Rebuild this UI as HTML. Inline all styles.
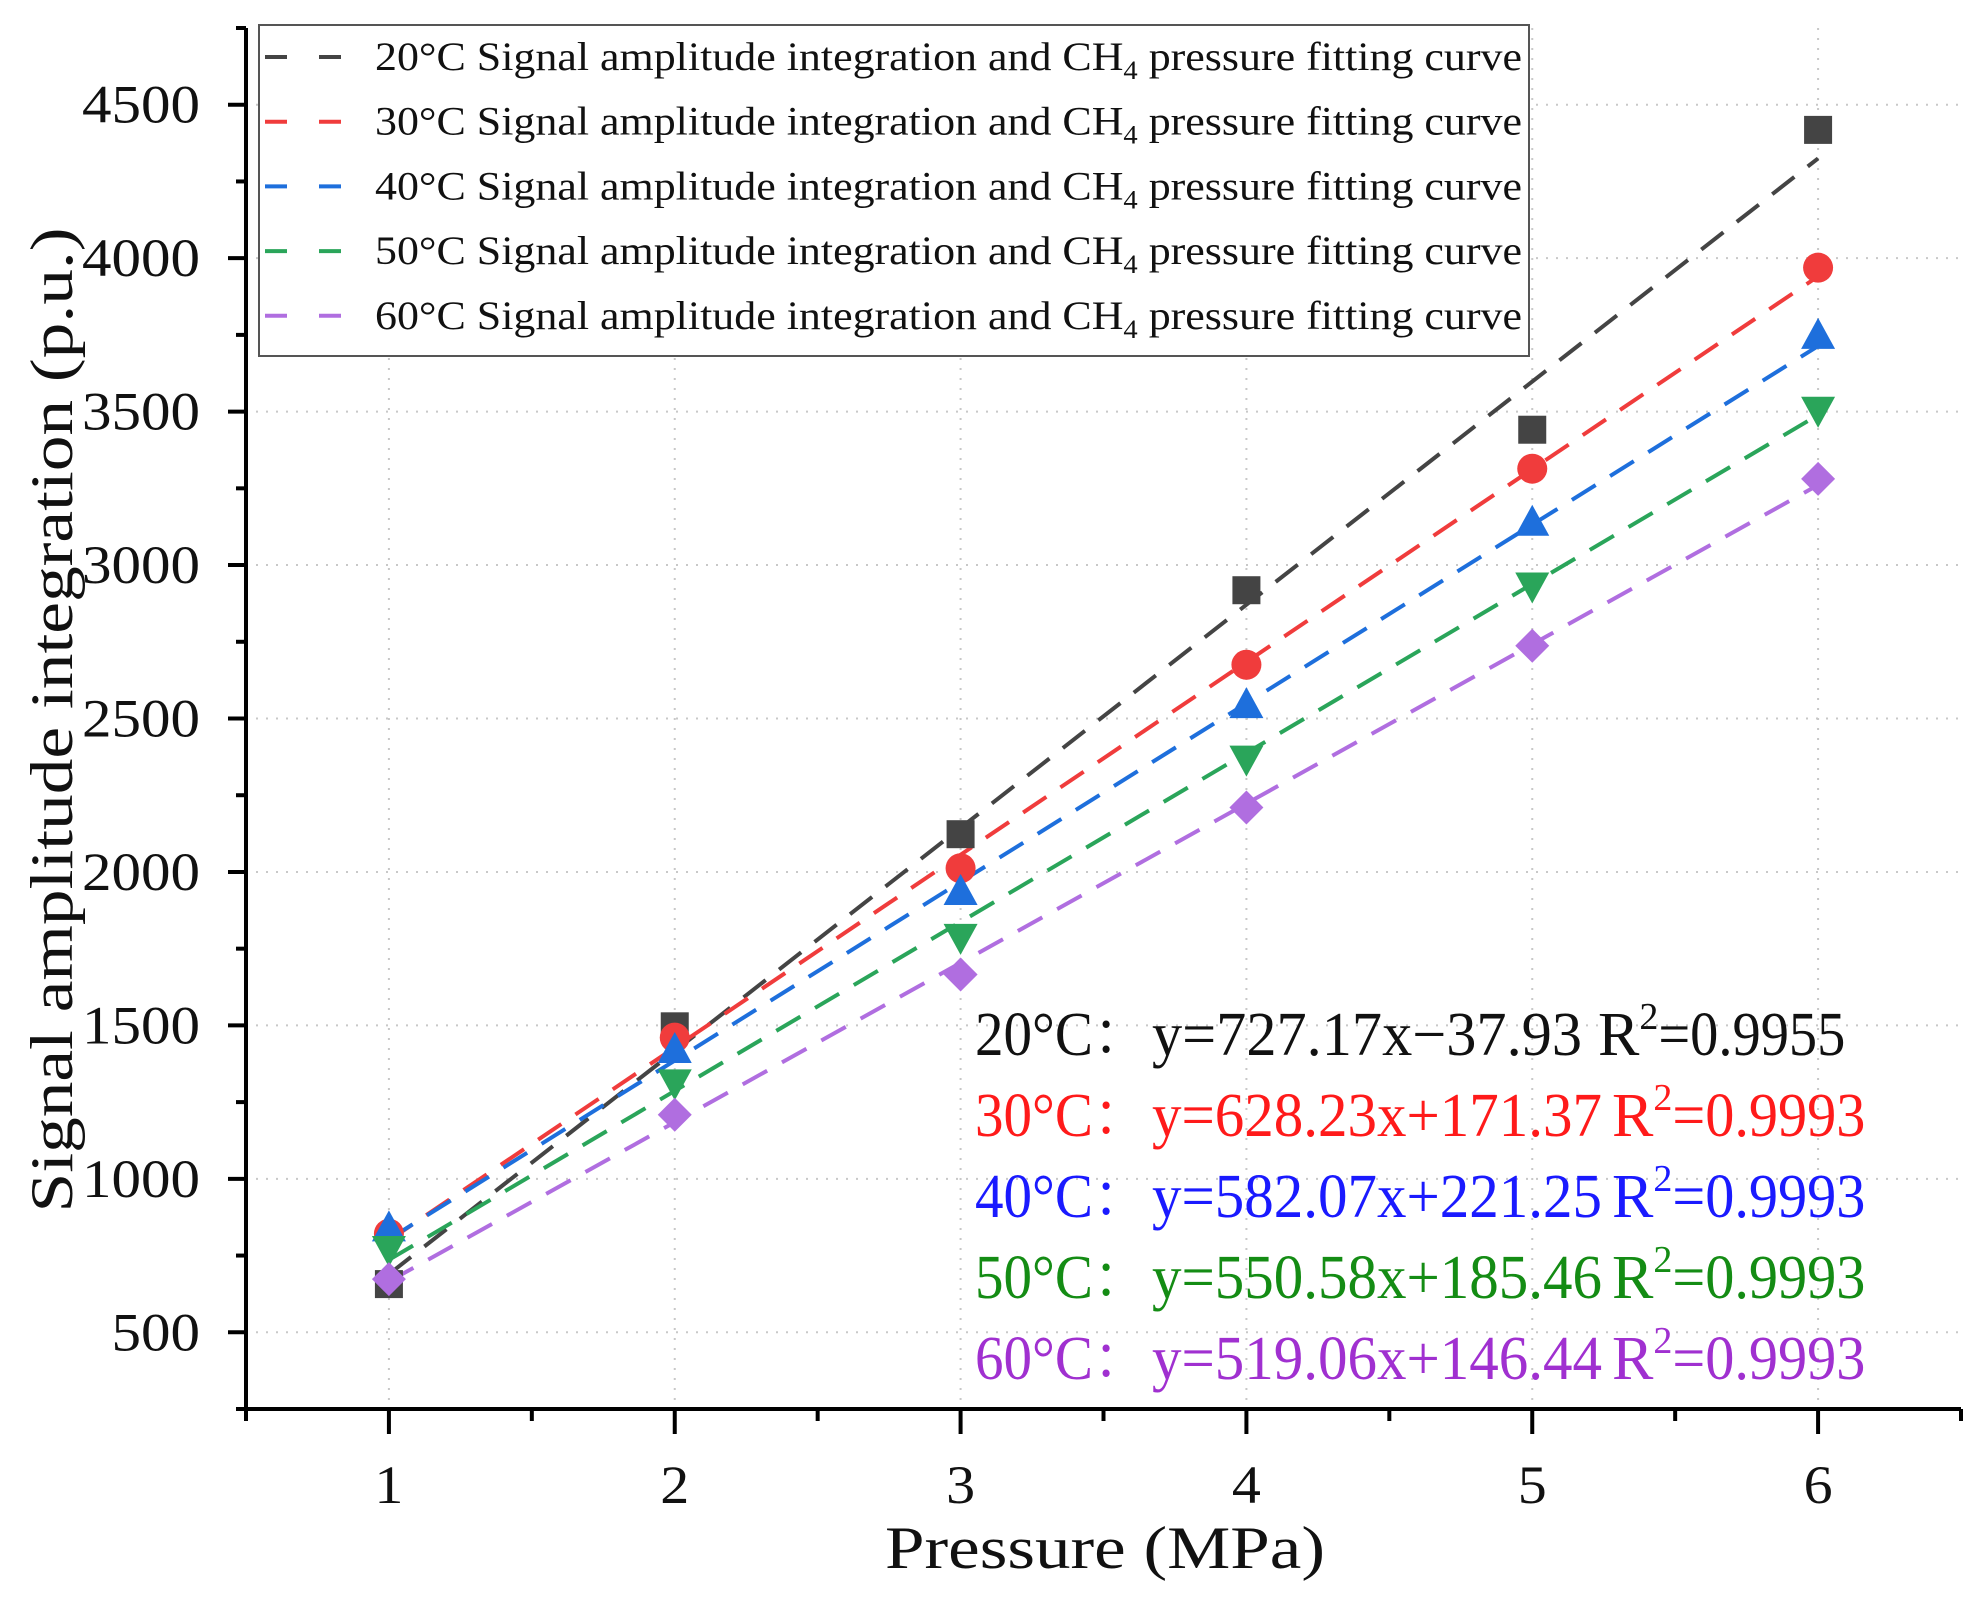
<!DOCTYPE html>
<html><head><meta charset="utf-8"><style>
html,body{margin:0;padding:0;background:#fff;}
svg{display:block;font-family:"Liberation Serif","Noto Serif CJK SC",serif;}
</style></head><body>
<svg id="chart" width="1981" height="1600" viewBox="0 0 1981 1600" xmlns="http://www.w3.org/2000/svg"></svg>
<script>
const categories = [1, 2, 3, 4, 5, 6];
const seriesNames = ["20°C", "30°C", "40°C", "50°C", "60°C"];
const s20 = [657, 1497, 2123, 2918, 3441, 4418];
const s30 = [821, 1460, 2012, 2675, 3314, 3969];
const s40 = [842, 1423, 1938, 2547, 3141, 3750];
const s50 = [768, 1311, 1785, 2366, 2930, 3503];
const s60 = [673, 1209, 1666, 2210, 2737, 3281];
const slopes = [727.17, 628.23, 582.07, 550.58, 519.06];
const intercepts = [-37.93, 171.37, 221.25, 185.46, 146.44];
const eqTexts = ["y=727.17x\u221237.93", "y=628.23x+171.37", "y=582.07x+221.25", "y=550.58x+185.46", "y=519.06x+146.44"];
const r2Texts = ["=0.9955", "=0.9993", "=0.9993", "=0.9993", "=0.9993"];
const yTicks = [500, 1000, 1500, 2000, 2500, 3000, 3500, 4000, 4500];
const xTicks = [1, 2, 3, 4, 5, 6];

const NS = "http://www.w3.org/2000/svg";
const svg = document.getElementById('chart');
const allSeries = [s20, s30, s40, s50, s60];
const colors = ["#444444", "#f03c3c", "#1e6fdc", "#2aa55a", "#b06ee0"];
const eqColors = ["#111111", "#ff1a1a", "#1a1aff", "#148c14", "#a030d0"];
const shapes = ["square", "circle", "up", "down", "diamond"];
const L = 246, R = 1961, T = 28, B = 1409;
const xmin = 0.5, xmax = 6.5, ymin = 250, ymax = 4750;
function sx(v){ return L + (v - xmin) / (xmax - xmin) * (R - L); }
function sy(v){ return B - (v - ymin) / (ymax - ymin) * (B - T); }
function mk(tag, attrs, parent){ const e = document.createElementNS(NS, tag); for (const k in attrs) e.setAttribute(k, attrs[k]); (parent || svg).appendChild(e); return e; }

// grid
const grid = mk('g', {});


yTicks.forEach(v => { mk('line', {x1: L, x2: R, y1: sy(v), y2: sy(v), stroke: '#c8c8c8', 'stroke-width': 2, 'stroke-dasharray': '2 8'}, grid); });
xTicks.forEach(v => { mk('line', {x1: sx(v), x2: sx(v), y1: T, y2: B, stroke: '#c8c8c8', 'stroke-width': 2, 'stroke-dasharray': '2 8'}, grid); });

// axes
const axes = mk('g', {stroke: '#000', 'stroke-width': 4});


mk('line', {x1: L, x2: L, y1: T, y2: B + 2}, axes);
mk('line', {x1: L - 2, x2: R, y1: B, y2: B}, axes);
for (let v = ymin; v <= ymax + 1; v += 250) {
  const major = yTicks.includes(v);
  mk('line', {x1: L - (major ? 18 : 10), x2: L, y1: sy(v), y2: sy(v)}, axes);
}
for (let v = xmin; v <= xmax + 0.01; v += 0.5) {
  const major = xTicks.includes(v);
  mk('line', {x1: sx(v), x2: sx(v), y1: B, y2: B + (major ? 25 : 12)}, axes);
}
yTicks.forEach(v => {
  const t = mk('text', {x: 200, y: sy(v) + 18, 'text-anchor': 'end', 'font-size': 54, fill: '#111', textLength: String(v).length * 29.5, lengthAdjust: 'spacingAndGlyphs'});
  
  
  t.textContent = v;
});
xTicks.forEach(v => {
  const t = mk('text', {x: sx(v), y: 1503, 'text-anchor': 'middle', 'font-size': 54, fill: '#111', textLength: 29, lengthAdjust: 'spacingAndGlyphs'});
  
  
  t.textContent = v;
});
const xt = mk('text', {x: 1105, y: 1568, 'text-anchor': 'middle', 'font-size': 60, fill: '#111', textLength: 440, lengthAdjust: 'spacingAndGlyphs'});


xt.textContent = 'Pressure (MPa)';
const yt = mk('text', {x: 0, y: 0, 'text-anchor': 'middle', 'font-size': 60, fill: '#111', textLength: 985, lengthAdjust: 'spacingAndGlyphs', transform: 'translate(72,720) rotate(-90)'});


yt.textContent = 'Signal amplitude integration (p.u.)';

// fit lines
allSeries.forEach((s, i) => {
  const ln = mk('line', {x1: sx(categories[0]), y1: sy(slopes[i] * categories[0] + intercepts[i]), x2: sx(categories[categories.length - 1]), y2: sy(slopes[i] * categories[categories.length - 1] + intercepts[i]), stroke: colors[i], 'stroke-width': 4, 'stroke-dasharray': '28 17'});
  
  
});
// markers
function marker(shape, cx, cy, c, g){
  const r = 14;
  if (shape === 'square') return mk('rect', {x: cx - r, y: cy - r, width: 2 * r, height: 2 * r, fill: c}, g);
  if (shape === 'circle') return mk('circle', {cx: cx, cy: cy, r: r + 1, fill: c}, g);
  if (shape === 'up') return mk('polygon', {points: `${cx},${cy - r - 3} ${cx + r + 3},${cy + r} ${cx - r - 3},${cy + r}`, fill: c}, g);
  if (shape === 'down') return mk('polygon', {points: `${cx - r - 3},${cy - r} ${cx + r + 3},${cy - r} ${cx},${cy + r + 3}`, fill: c}, g);
  return mk('polygon', {points: `${cx},${cy - r - 3} ${cx + r + 3},${cy} ${cx},${cy + r + 3} ${cx - r - 3},${cy}`, fill: c}, g);
}
allSeries.forEach((s, i) => {
  const g = mk('g', {});
  
  
  s.forEach((v, j) => {
    const m = marker(shapes[i], sx(categories[j]), sy(v), colors[i], g);
    
    
  });
});

// legend
const lg = mk('g', {});


mk('rect', {x: 259, y: 25, width: 1270, height: 331, fill: '#fff', stroke: '#555', 'stroke-width': 2}, lg);
seriesNames.forEach((n, i) => {
  const y = 57 + i * 64.7;
  const e = mk('g', {}, lg);
  
  
  mk('line', {x1: 265, x2: 341, y1: y, y2: y, stroke: colors[i], 'stroke-width': 4, 'stroke-dasharray': '22 32'}, e);
  const t = mk('text', {x: 375, y: y + 13, 'font-size': 40, fill: '#111', textLength: 1147, lengthAdjust: 'spacingAndGlyphs'}, e);
  t.innerHTML = n + ' Signal amplitude integration and CH<tspan font-size="26" dy="9">4</tspan><tspan dy="-9"> pressure fitting curve</tspan>';
});

// equations
const eq = mk('g', {});


seriesNames.forEach((n, i) => {
  const y = 1055 + i * 81;
  const a = mk('text', {x: 975, y: y, 'font-size': 62, fill: eqColors[i], textLength: 175, lengthAdjust: 'spacingAndGlyphs'}, eq);
  
  
  a.textContent = n + '\uFF1A';
  const b = mk('text', {x: 1152, y: y, 'font-size': 62, fill: eqColors[i]}, eq);
  
  
  const endX = i === 0 ? 1847 : 1867;
  const r2x = i === 0 ? 1598 : 1612;
  b.innerHTML = `<tspan textLength="${(i === 0 ? 430 : 450)}" lengthAdjust="spacingAndGlyphs">${eqTexts[i]}</tspan>`;
  const c = mk('text', {x: r2x, y: y, 'font-size': 62, fill: eqColors[i]}, eq);
  
  
  c.innerHTML = `R<tspan font-size="38" dy="-26">2</tspan><tspan dy="26" textLength="${endX - r2x - 62}" lengthAdjust="spacingAndGlyphs">${r2Texts[i]}</tspan>`;
});
</script>
</body></html>
